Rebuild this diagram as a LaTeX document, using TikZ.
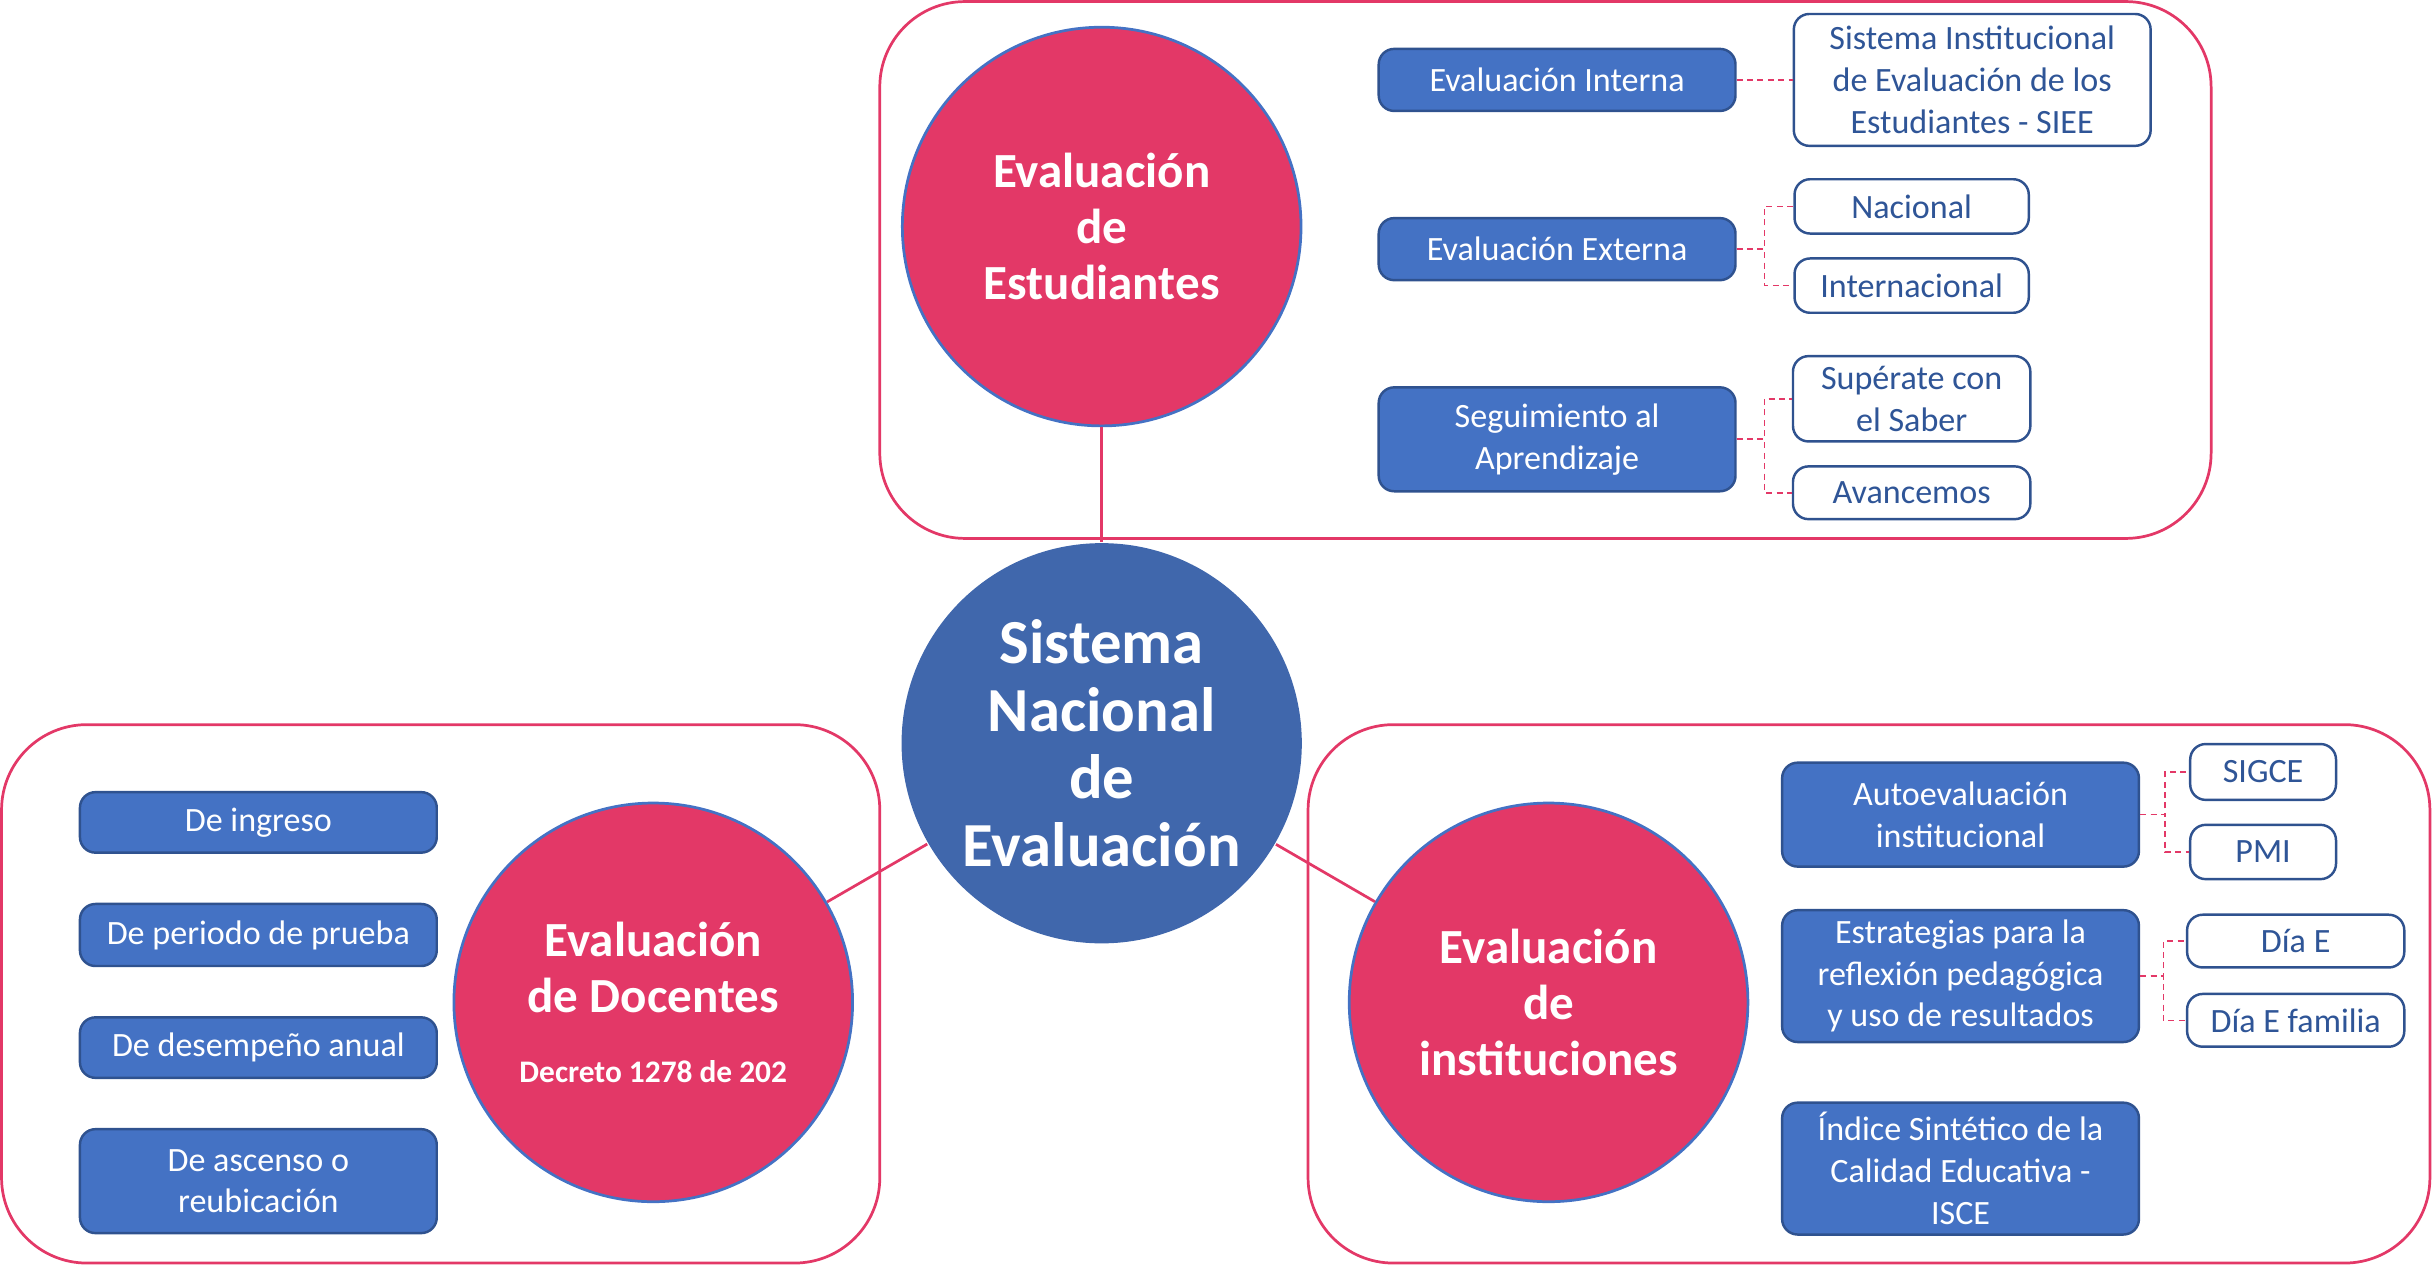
\documentclass[tikz,border=0pt]{standalone}
\usepackage{fontspec}
\setmainfont{Carlito}
\usetikzlibrary{positioning}
\definecolor{evalpink}{RGB}{227,56,103}
\definecolor{sneblue}{RGB}{64,103,172}
\definecolor{boxblue}{RGB}{68,114,196}
\definecolor{boxedge}{RGB}{47,82,143}
\definecolor{subtext}{RGB}{47,85,151}
\tikzset{
  groupframe/.style={draw=evalpink, line width=1pt, rounded corners=1.1cm},
  bigcircle/.style={circle, fill=evalpink, draw=boxblue, line width=1pt, minimum size=5.14cm, inner sep=0pt, text=white, align=center, font=\bfseries\fontsize{18}{20.5}\selectfont},
  bluebox/.style={rectangle, rounded corners=0.2cm, fill=boxblue, draw=boxedge, line width=0.9pt, text=white, minimum width=4.6cm, minimum height=0.8cm, inner xsep=2pt, inner ysep=1pt, align=center, font=\fontsize{12.5}{15.3}\selectfont},
  whitebox/.style={bluebox, fill=white, text=subtext, minimum width=3.02cm, minimum height=0.7cm},
  mainlink/.style={draw=evalpink, line width=1pt},
  sublink/.style={draw=evalpink, line width=0.6pt, dash pattern=on 2.2pt off 1.6pt}
}
\begin{document}
\begin{tikzpicture}[x=0.02cm, y=-0.02cm]
\useasboundingbox (0,0) rectangle (1568,815);
\draw[groupframe] (567,1) rectangle (1425,347);
\draw[groupframe] (1,467) rectangle (567,814);
\draw[groupframe] (843,467) rectangle (1566,814);

\node[bigcircle, fill=sneblue, draw=none, minimum size=5.16cm, font=\bfseries\fontsize{23}{24.8}\selectfont] (sne) at (710,479) {Sistema\\Nacional\\de\\Evaluación};
\node[bigcircle] (est) at (710,146) {Evaluación\\de\\Estudiantes};
\node[bigcircle] (doc) at (421,646) {Evaluación\\de Docentes\\[5pt]{\fontsize{11.5}{14}\selectfont Decreto 1278 de 202}};
\node[bigcircle] (inst) at (998,646) {Evaluación\\de\\instituciones};
\draw[mainlink] (est) -- (sne);
\draw[mainlink] (sne) -- (doc);
\draw[mainlink] (sne) -- (inst);

\node[bluebox] (ei) at (1003.5,51.5) {Evaluación Interna};
\node[bluebox, below=1.35cm of ei] (ee) {Evaluación Externa};
\node[bluebox, below=1.35cm of ee, minimum height=1.34cm] (sa) {Seguimiento al\\Aprendizaje};
\node[whitebox, minimum width=4.6cm, minimum height=1.7cm, right=0.72cm of ei] (siee) {Sistema Institucional\\de Evaluación de los\\Estudiantes - SIEE};
\node[whitebox] (nac) at (1232,133) {Nacional};
\node[whitebox, below=0.29cm of nac] (intl) {Internacional};
\node[whitebox, minimum width=3.06cm, minimum height=1.1cm] (sup) at (1232,257) {Supérate con\\el Saber};
\node[whitebox, minimum width=3.06cm, minimum height=0.68cm, below=0.29cm of sup] (ava) {Avancemos};
\draw[sublink] (ei.east) -- (ei.east -| siee.west);
\draw[sublink] (ee.east) -- ++(0.36cm,0) |- (nac.west);
\draw[sublink] (ee.east) -- ++(0.36cm,0) |- (intl.west);
\draw[sublink] (sa.east) -- ++(0.36cm,0) |- (sup.west);
\draw[sublink] (sa.east) -- ++(0.36cm,0) |- (ava.west);

\node[bluebox, minimum height=0.78cm] (ing) at (166.5,530) {De ingreso};
\node[bluebox, below=0.63cm of ing] (per) {De periodo de prueba};
\node[bluebox, minimum height=0.78cm, below=0.63cm of per] (des) {De desempeño anual};
\node[bluebox, minimum height=1.34cm, below=0.63cm of des] (asc) {De ascenso o\\reubicación};

\node[bluebox, minimum height=1.34cm] (auto) at (1263.5,525) {Autoevaluación\\institucional};
\node[bluebox, minimum height=1.7cm, below=0.53cm of auto] (estr) {Estrategias para la\\reflexión pedagógica\\y uso de resultados};
\node[bluebox, minimum height=1.7cm, below=0.75cm of estr] (isce) {Índice Sintético de la\\Calidad Educativa -\\ISCE};
\node[whitebox, minimum width=1.88cm, minimum height=0.72cm] (sigce) at (1458.5,497.5) {SIGCE};
\node[whitebox, minimum width=1.88cm, below=0.29cm of sigce] (pmi) {PMI};
\node[whitebox, minimum width=2.8cm, minimum height=0.68cm] (diae) at (1479.5,606.5) {Día E};
\node[whitebox, minimum width=2.8cm, minimum height=0.68cm, below=0.31cm of diae] (diaef) {Día E familia};
\draw[sublink] (auto.east) -- ++(0.32cm,0) |- (sigce.west);
\draw[sublink] (auto.east) -- ++(0.32cm,0) |- (pmi.west);
\draw[sublink] (estr.east) -- ++(0.3cm,0) |- (diae.west);
\draw[sublink] (estr.east) -- ++(0.3cm,0) |- (diaef.west);
\end{tikzpicture}
\end{document}
